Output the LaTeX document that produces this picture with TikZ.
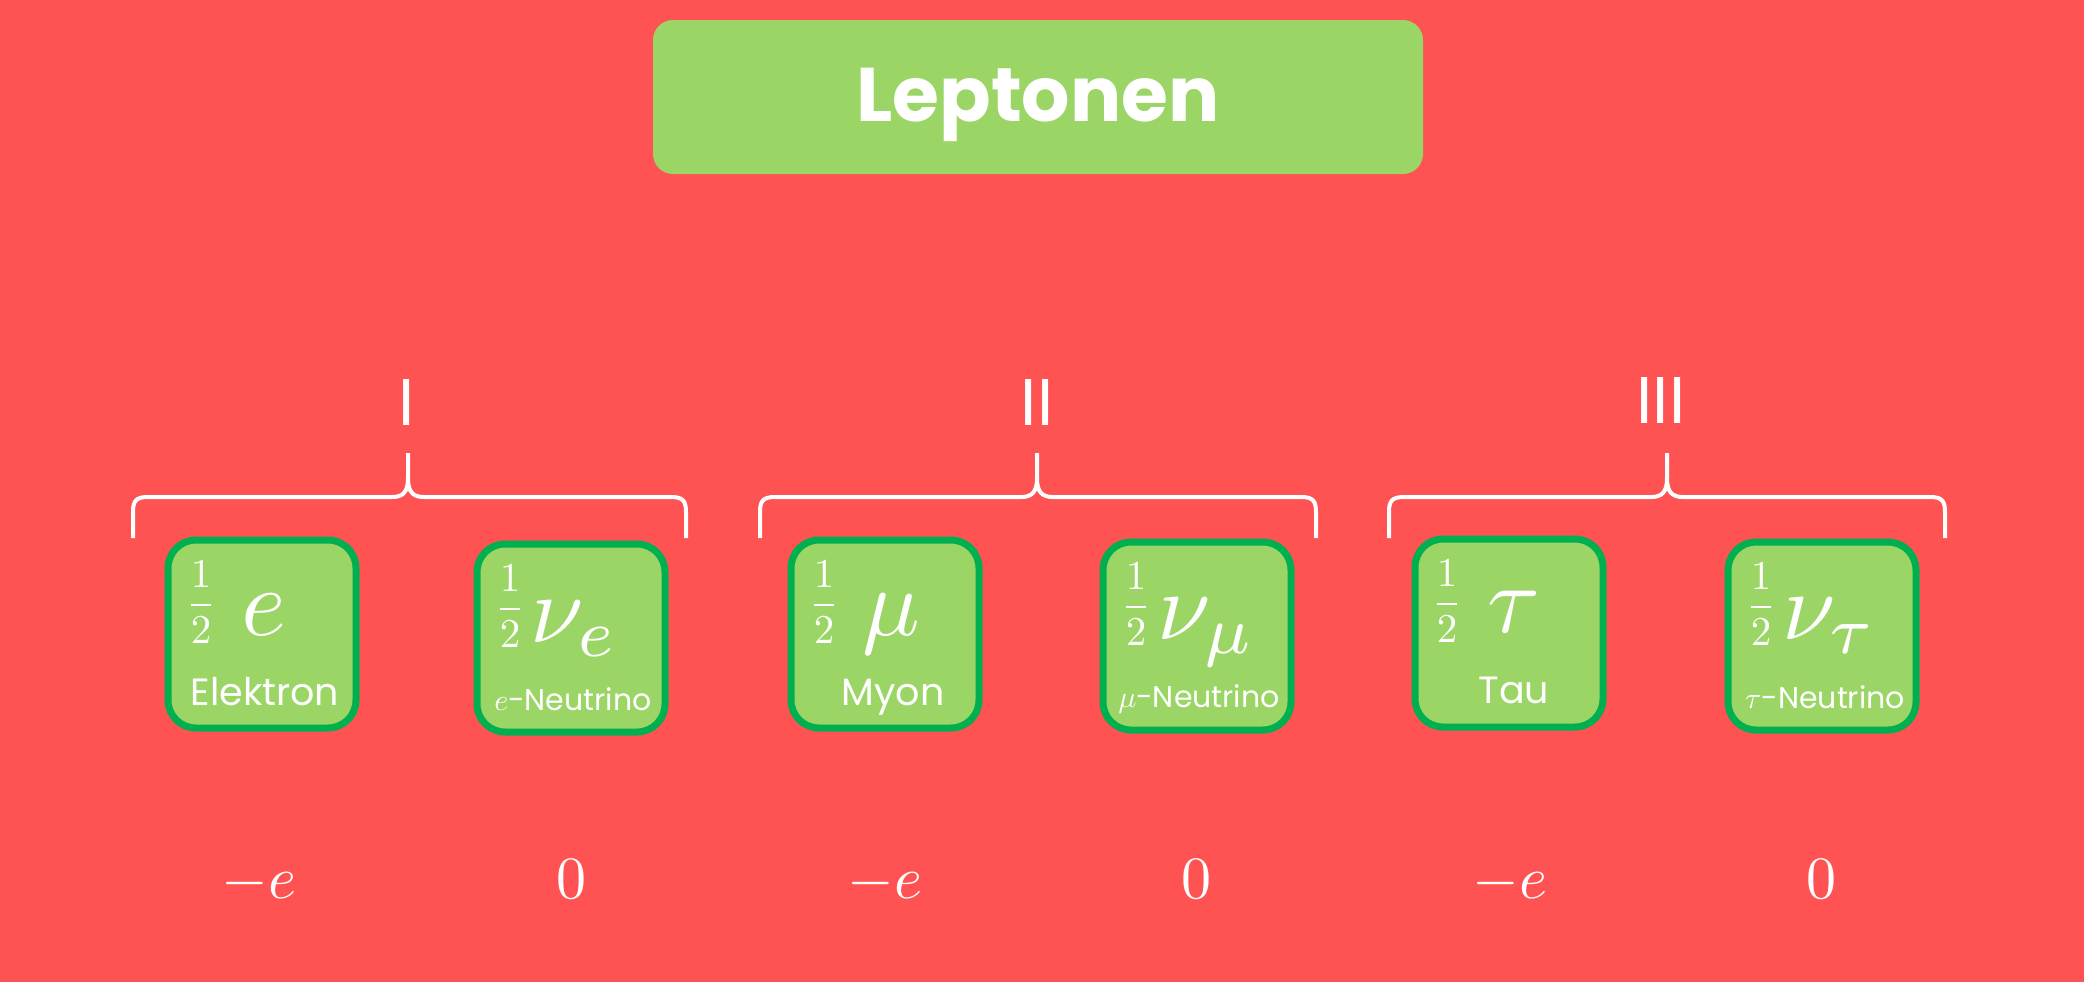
\documentclass[tikz,border=0pt]{standalone}
\usepackage{graphicx}
\usepackage[no-math]{fontspec}
\setmainfont{Poppins}
\definecolor{bg}{RGB}{255,82,82}
\definecolor{boxfill}{RGB}{155,213,102}
\definecolor{boxedge}{RGB}{0,176,80}
\newcommand\mth[2]{\scalebox{#1}{\fontsize{10}{12}\selectfont$#2$}}
\newcommand\genbrace[3]{%
  \draw[brace] (#1,538) -- (#1,512) .. controls (#1,501) and ({#1+3},497) .. ({#1+15},497)
    -- ({#2-16},497) .. controls ({#2-5},497) and (#2,492) .. (#2,478) -- (#2,453);
  \draw[brace] (#2,478) .. controls (#2,492) and ({#2+5},497) .. ({#2+16},497)
    -- ({#3-15},497) .. controls ({#3-3},497) and (#3,501) .. (#3,512) -- (#3,538);}
\begin{document}
\begin{tikzpicture}[x=0.5pt,y=-0.5pt,
  particle/.style={draw=boxedge, fill=boxfill, line width=3.5pt, rounded corners=14pt,
    minimum width=94pt, minimum height=94pt, inner sep=0pt},
  titlebox/.style={fill=boxfill, rounded corners=10pt, minimum width=385pt, minimum height=77pt, inner sep=0pt},
  titletext/.style={text=white, font=\fontsize{38}{38}\selectfont\bfseries, anchor=base, inner sep=0pt},
  frac/.style={text=white, inner sep=0pt},
  sym/.style={text=white, inner sep=0pt, anchor=base},
  lbl/.style={text=white, font=\fontsize{19}{19}\selectfont, anchor=base, inner sep=0pt},
  nlbl/.style={text=white, font=\fontsize{15}{15}\selectfont, anchor=base, inner sep=0pt},
  charge/.style={text=white, anchor=base, inner sep=0pt},
  gen/.style={text=white, font=\fontsize{33}{33}\selectfont, anchor=base, inner sep=0pt},
  brace/.style={draw=white, line width=2pt}]
\useasboundingbox (0,0) rectangle (2084,982);
\fill[bg] (0,0) rectangle (2084,982);
% title
\node[titlebox] (title) at (1038,97) {};
\node[titletext] (tt) at (1038,121) {Leptonen};
% generations
\node[gen] (g1) at (407,425) {I};
\node[gen] (g2) at (1037,425) {II};
\node[gen] (g3) at (1661,423) {III};
\genbrace{133}{408}{686}
\genbrace{760}{1037}{1316}
\genbrace{1389}{1667}{1945}
% boxes
\node[particle] (b1) at (262,634) {};
\node[particle] (b2) at (571,638) {};
\node[particle] (b3) at (885,634) {};
\node[particle] (b4) at (1197,636) {};
\node[particle] (b5) at (1509,633) {};
\node[particle] (b6) at (1822,636) {};
% box 1
\node[frac] (f1) at (201,602) {\mth{2.05}{\displaystyle\frac{1}{2}}};
\node[sym] (s1) at (264,635) {\mth{4.8}{e}};
\node[lbl] (l1) at (265,705) {Elektron};
% box 2
\node[frac] (f2) at (510,606) {\mth{2.05}{\displaystyle\frac{1}{2}}};
\node[sym, anchor=base west] (s2) at (530,642) {\mth{4.8}{\nu_e}};
\node[nlbl] (l2) at (573,710) {\mth{1.5}{e}-Neutrino};
% box 3
\node[frac] (f3) at (824,602) {\mth{2.05}{\displaystyle\frac{1}{2}}};
\node[sym] (s3) at (891,635) {\mth{4.8}{\mu}};
\node[lbl] (l3) at (893,705) {Myon};
% box 4
\node[frac] (f4) at (1136,604) {\mth{2.05}{\displaystyle\frac{1}{2}}};
\node[sym, anchor=base west] (s4) at (1157,639) {\mth{4.8}{\nu_\mu}};
\node[nlbl] (l4) at (1199,707) {\mth{1.5}{\mu}-Neutrino};
% box 5
\node[frac] (f5) at (1447,601) {\mth{2.05}{\displaystyle\frac{1}{2}}};
\node[sym] (s5) at (1514,632) {\mth{4.8}{\tau}};
\node[lbl] (l5) at (1514,703) {Tau};
% box 6
\node[frac] (f6) at (1761,604) {\mth{2.05}{\displaystyle\frac{1}{2}}};
\node[sym, anchor=base west] (s6) at (1782,639) {\mth{4.8}{\nu_\tau}};
\node[nlbl] (l6) at (1825,708) {\mth{1.5}{\tau}-Neutrino};
% charges
\node[charge] (c1) at (259,898) {\mth{3}{-e}};
\node[charge] (c2) at (571,898) {\mth{3}{0}};
\node[charge] (c3) at (885,898) {\mth{3}{-e}};
\node[charge] (c4) at (1196,898) {\mth{3}{0}};
\node[charge] (c5) at (1510,898) {\mth{3}{-e}};
\node[charge] (c6) at (1821,898) {\mth{3}{0}};
\end{tikzpicture}
\end{document}
